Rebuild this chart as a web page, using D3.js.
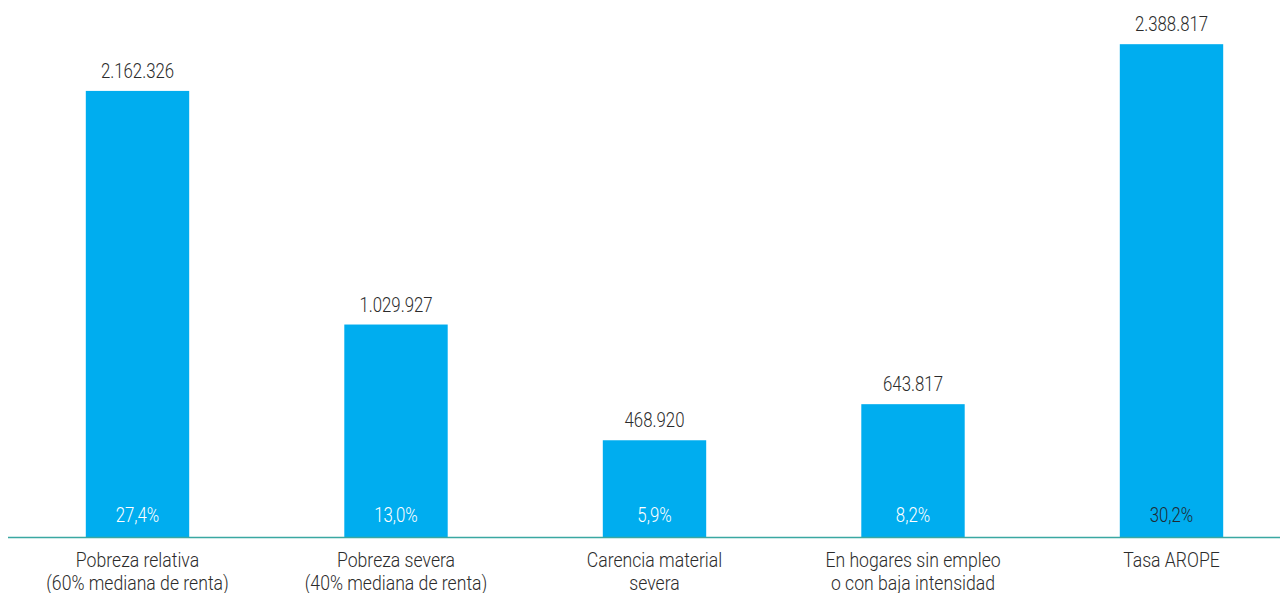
<!DOCTYPE html>
<html><head><meta charset="utf-8">
<script src="https://cdn.jsdelivr.net/npm/d3@7"></script>
<style>body{margin:0;background:#fff;}svg{display:block;font-family:Roboto,"Noto Sans",sans-serif;}</style>
</head><body>
<svg id="c" width="1280" height="593"></svg>
<script>
const categories = [
  ["Pobreza relativa", "(60% mediana de renta)"],
  ["Pobreza severa", "(40% mediana de renta)"],
  ["Carencia material", "severa"],
  ["En hogares sin empleo", "o con baja intensidad"],
  ["Tasa AROPE"]
];
const values = [2162326, 1029927, 468920, 643817, 2388817];
const valueLabels = ["2.162.326", "1.029.927", "468.920", "643.817", "2.388.817"];
const percentLabels = ["27,4%", "13,0%", "5,9%", "8,2%", "30,2%"];
const percentDark = [false, false, false, false, true];

const svg = d3.select("#c");
const idx = d3.range(values.length);
const x = d3.scaleBand().domain(idx).range([8.25, 1300.75]).paddingInner(0.6).paddingOuter(0.3);
const y = d3.scaleLinear().domain([0, 2603000]).range([537, 0]);
const FS = 21;

svg.selectAll("rect.bar").data(idx).join("rect").attr("class","bar")
  .attr("x", i => x(i)).attr("width", x.bandwidth())
  .attr("y", i => y(values[i])).attr("height", i => y(0) - y(values[i]))
  .attr("fill", "#00adef");

// baseline
svg.append("line").attr("x1", 8).attr("x2", 1280).attr("y1", y(0)+0.5).attr("y2", y(0)+0.5)
  .attr("stroke", "#3aa8a2").attr("stroke-width", 1.5);

function txt(g, tx, ty, s, fill, sx) {
  g.append("text").attr("transform", `translate(${tx},${ty}) scale(${sx},1)`)
   .attr("text-anchor","middle").attr("font-size", FS).attr("font-weight", 300)
   .attr("fill", fill).text(s);
}
idx.forEach(i => {
  const cx = x(i) + x.bandwidth()/2;
  txt(svg, cx, y(values[i]) - 13, valueLabels[i], "#2b2b2b", 0.8);
  txt(svg, cx, y(0) - 15, percentLabels[i], percentDark[i] ? "#1f2a33" : "#ffffff", 0.8);
  categories[i].forEach((line, k) => txt(svg, cx, 567 + k*23, line, "#2b2b2b", 0.84));
});
</script>
</body></html>
